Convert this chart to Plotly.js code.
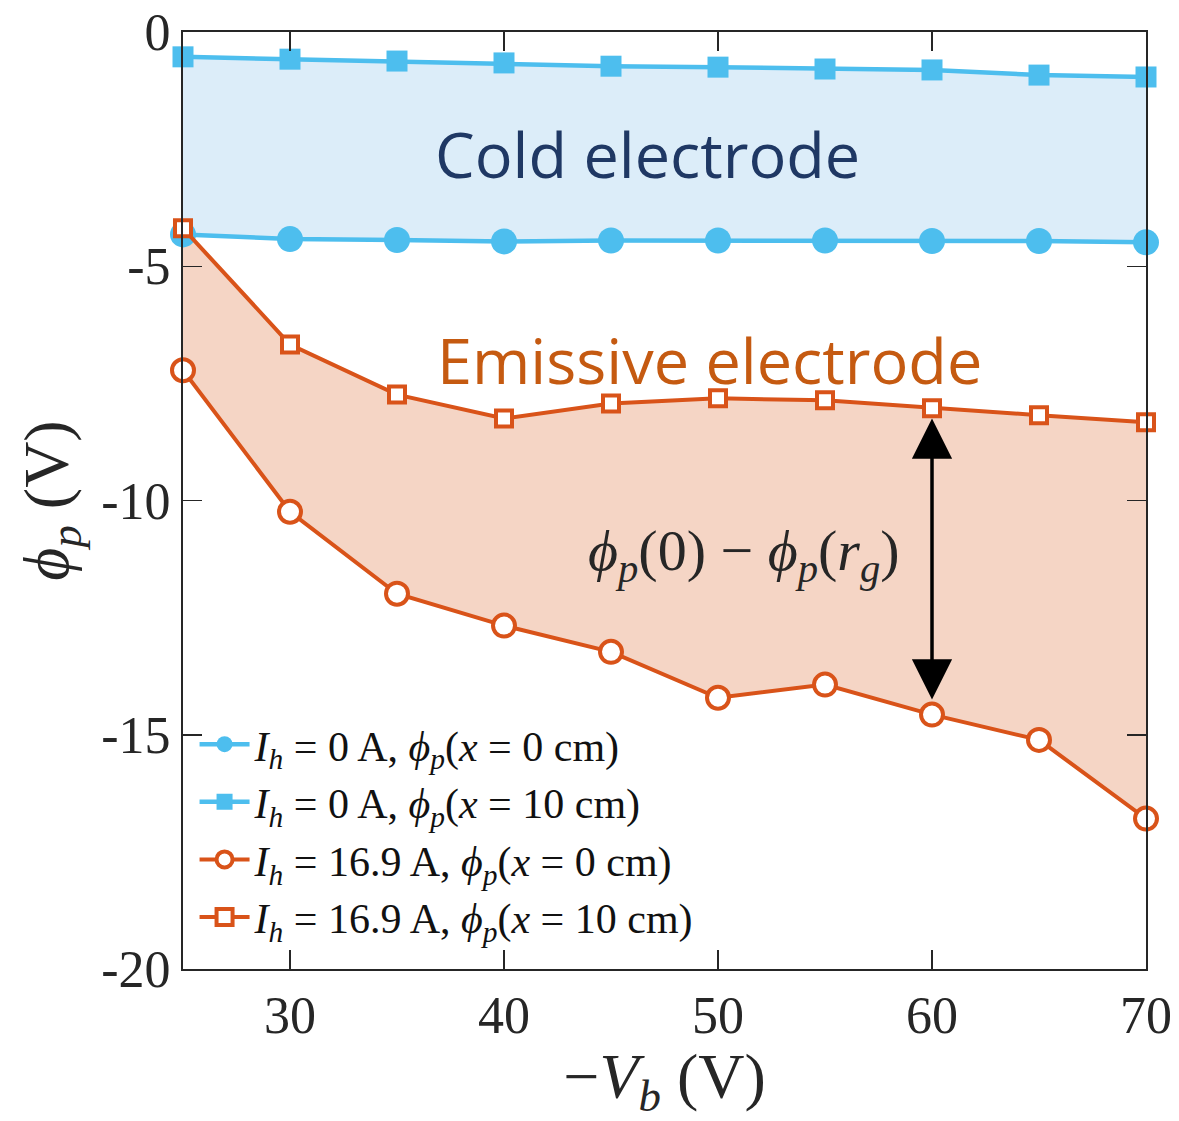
<!DOCTYPE html>
<html>
<head>
<meta charset="utf-8">
<script src="https://cdn.plot.ly/plotly-3.0.1.min.js"></script>
<style>html,body{margin:0;padding:0;background:#fff;}#chart{width:1179px;height:1121px;}</style>
</head>
<body>
<div id="chart"></div>
<script>
// ---- data ----
var Vb = [25, 30, 35, 40, 45, 50, 55, 60, 65, 70];
var cold_x0 = [-4.32, -4.42, -4.44, -4.47, -4.45, -4.45, -4.45, -4.46, -4.46, -4.49];
var cold_x10 = [-0.53, -0.58, -0.62, -0.66, -0.73, -0.75, -0.79, -0.81, -0.92, -0.96];
var emis_x0 = [-7.22, -10.24, -11.99, -12.67, -13.23, -14.21, -13.93, -14.57, -15.11, -16.79];
var emis_x10 = [-4.19, -6.67, -7.74, -8.25, -7.93, -7.82, -7.86, -8.03, -8.18, -8.33];
var xTickVals = [30, 40, 50, 60, 70];
var xTickText = ['30', '40', '50', '60', '70'];
var yTickVals = [0, -5, -10, -15, -20];
var yTickText = ['0', '-5', '-10', '-15', '-20'];
var seriesNames = [
  '<i>I</i><sub><i>h</i></sub> = 0 A, <i>ϕ</i><sub><i>p</i></sub>(<i>x</i> = 0 cm)',
  '<i>I</i><sub><i>h</i></sub> = 0 A, <i>ϕ</i><sub><i>p</i></sub>(<i>x</i> = 10 cm)',
  '<i>I</i><sub><i>h</i></sub> = 16.9 A, <i>ϕ</i><sub><i>p</i></sub>(<i>x</i> = 0 cm)',
  '<i>I</i><sub><i>h</i></sub> = 16.9 A, <i>ϕ</i><sub><i>p</i></sub>(<i>x</i> = 10 cm)'
];
var gapArrow = {x: 60, top: -8.25, bottom: -14.28};

var cyan = '#4DBEEE', orange = '#D95319';
var serif = 'Liberation Serif, DejaVu Serif, serif';

var traces = [
  // fills
  {x: Vb, y: cold_x0, mode: 'lines', line: {width: 0}, showlegend: false, hoverinfo: 'skip'},
  {x: Vb, y: cold_x10, mode: 'lines', line: {width: 0}, fill: 'tonexty', fillcolor: '#DCEDF9', showlegend: false, hoverinfo: 'skip'},
  {x: Vb, y: emis_x0, mode: 'lines', line: {width: 0}, showlegend: false, hoverinfo: 'skip'},
  {x: Vb, y: emis_x10, mode: 'lines', line: {width: 0}, fill: 'tonexty', fillcolor: '#F5D5C5', showlegend: false, hoverinfo: 'skip'},
  // series
  {x: Vb, y: cold_x0, name: seriesNames[0], mode: 'lines+markers', cliponaxis: false,
   line: {color: cyan, width: 4.5}, marker: {symbol: 'circle', size: 26, color: cyan}},
  {x: Vb, y: cold_x10, name: seriesNames[1], mode: 'lines+markers', cliponaxis: false,
   line: {color: cyan, width: 4.5}, marker: {symbol: 'square', size: 21, color: cyan}},
  {x: Vb, y: emis_x0, name: seriesNames[2], mode: 'lines+markers', cliponaxis: false,
   line: {color: orange, width: 4}, marker: {symbol: 'circle', size: 22, color: '#ffffff', line: {color: orange, width: 4}}},
  {x: Vb, y: emis_x10, name: seriesNames[3], mode: 'lines+markers', cliponaxis: false,
   line: {color: orange, width: 4}, marker: {symbol: 'square', size: 16, color: '#ffffff', line: {color: orange, width: 4}}}
];

var axisCommon = {
  showgrid: false, zeroline: false, showline: true, linecolor: '#262626', linewidth: 2,
  mirror: 'ticks', ticks: 'inside', ticklen: 19, tickwidth: 1.5, tickcolor: '#262626',
  tickfont: {family: serif, size: 52, color: '#262626'}
};

var layout = {
  width: 1179, height: 1121,
  margin: {l: 183, r: 33, t: 32, b: 152},
  paper_bgcolor: '#ffffff', plot_bgcolor: '#ffffff',
  font: {family: serif, color: '#262626'},
  xaxis: Object.assign({}, axisCommon, {
    range: [25, 70], tickmode: 'array', tickvals: xTickVals, ticktext: xTickText,
    title: {text: '−<i>V</i><sub><i>b</i></sub> (V)', font: {family: serif, size: 64, color: '#262626'}, standoff: 16}
  }),
  yaxis: Object.assign({}, axisCommon, {
    range: [-20, 0], tickmode: 'array', tickvals: yTickVals, ticktext: yTickText,
    title: {text: '<i>ϕ</i><sub><i>p</i></sub> (V)', font: {family: serif, size: 64, color: '#262626'}, standoff: 12}
  }),
  showlegend: true,
  legend: {x: 0.012, y: 0.276, xanchor: 'left', yanchor: 'top', bgcolor: 'rgba(0,0,0,0)',
           traceorder: 'normal', font: {family: serif, size: 42, color: '#111111'}, itemwidth: 50, tracegroupgap: 0},
  annotations: [
    {x: 46.7, y: -2.6, xref: 'x', yref: 'y', text: 'Cold electrode', showarrow: false,
     font: {family: 'Open Sans, Noto Sans, sans-serif', size: 63, color: '#1F3864'}},
    {x: 49.6, y: -7.0, xref: 'x', yref: 'y', text: 'Emissive electrode', showarrow: false,
     font: {family: 'Open Sans, Noto Sans, sans-serif', size: 63, color: '#C55A11'}},
    {x: 51.2, y: -11.15, xref: 'x', yref: 'y',
     text: '<i>ϕ</i><sub><i>p</i></sub>(0) − <i>ϕ</i><sub><i>p</i></sub>(<i>r</i><sub><i>g</i></sub>)', showarrow: false,
     font: {family: serif, size: 58, color: '#262626'}},
    {x: gapArrow.x, y: gapArrow.top, ax: gapArrow.x, ay: gapArrow.bottom, xref: 'x', yref: 'y',
     axref: 'x', ayref: 'y', text: '', showarrow: true, arrowside: 'end+start', arrowhead: 2,
     arrowsize: 2.3, arrowwidth: 3.5, arrowcolor: '#000000', standoff: 0, startstandoff: 0}
  ]
};

Plotly.newPlot('chart', traces, layout, {staticPlot: true, displayModeBar: false});
</script>
</body>
</html>
